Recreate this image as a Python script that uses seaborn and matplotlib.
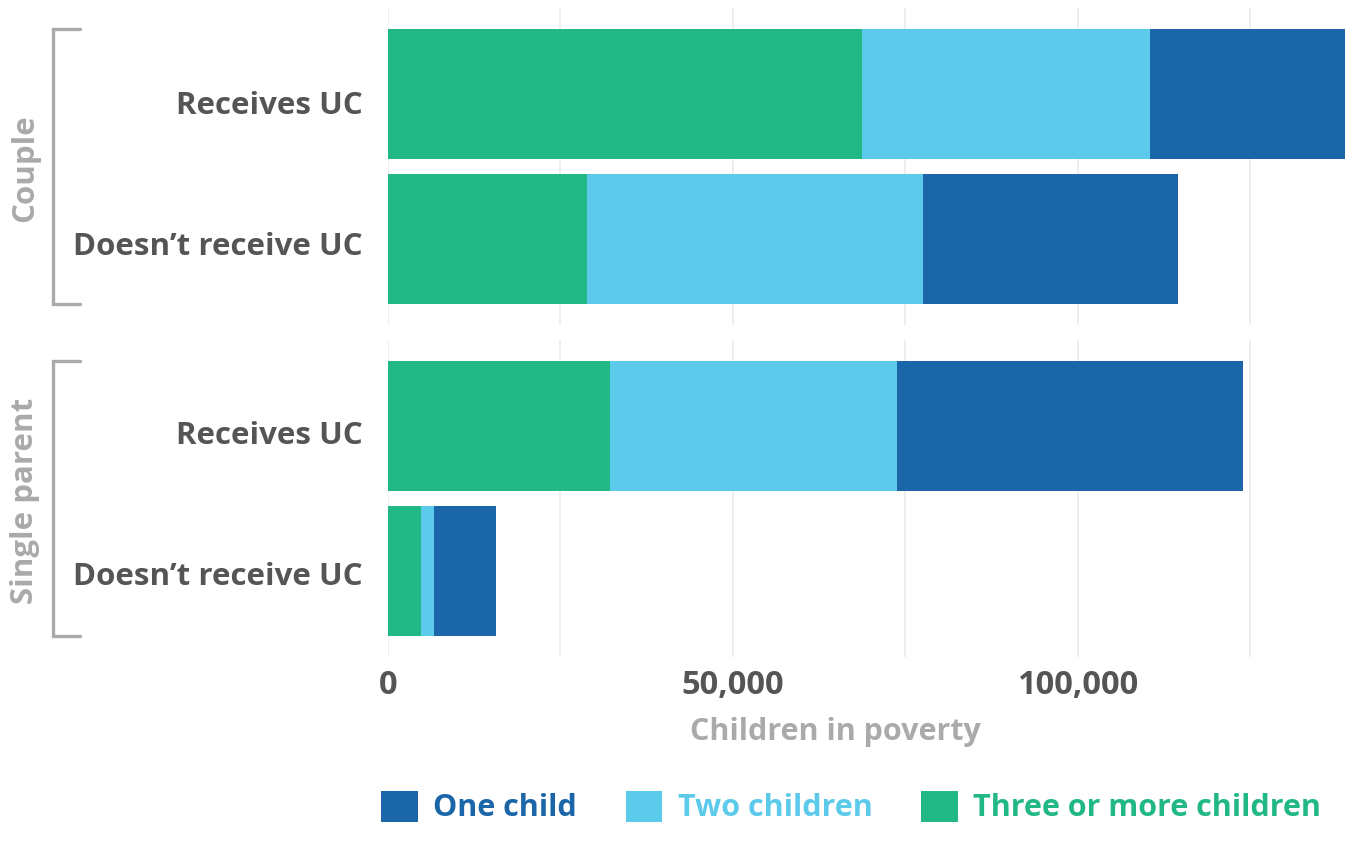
import matplotlib
matplotlib.use("Agg")
import matplotlib.pyplot as plt
import matplotlib.transforms as mtransforms
import seaborn as sns
import pandas as pd
from matplotlib.lines import Line2D
from matplotlib.patches import Patch

# ---- data ----
groups = ["Couple", "Single parent"]
uc_status = ["Receives UC", "Doesn\u2019t receive UC"]
series = ["One child", "Two children", "Three or more children"]
series_colors = ["#1b65a9", "#5ccbeb", "#21b886"]

couple_one = [28300, 37000]
couple_two = [41700, 48700]
couple_three = [68700, 28800]
single_one = [50100, 9000]
single_two = [41600, 1900]
single_three = [32200, 4800]

xticks = [0, 25000, 50000, 75000, 100000, 125000]
xtick_labels = ["0", "", "50,000", "", "100,000", ""]

sns.set_theme(style="white")
plt.rcParams["font.family"] = ["Open Sans", "DejaVu Sans"]

W, H = 1351, 844
fig = plt.figure(figsize=(W / 100, H / 100), dpi=100)

def fx(px):
    return px / W

def fy(py):
    return 1 - py / H

ax_left, ax_right = 388, 1345
panels = [(8, 325), (340, 657)]
label_shift_px = [(9, 4), (7, 2)]
data_sets = [
    (couple_one, couple_two, couple_three),
    (single_one, single_two, single_three),
]
xmax = max(a + b + c for d in data_sets for a, b, c in zip(*d))

axes = []
for (top, bot), (one, two, three), grp, shifts in zip(panels, data_sets, groups, label_shift_px):
    ax = fig.add_axes([fx(ax_left), fy(bot), fx(ax_right - ax_left), (bot - top) / H])
    df = pd.DataFrame({"status": uc_status, "one": one, "two": two, "three": three})
    df["c3"] = df["three"]
    df["c2"] = df["three"] + df["two"]
    df["c1"] = df["three"] + df["two"] + df["one"]
    for col, color in zip(["c1", "c2", "c3"], series_colors):
        sns.barplot(data=df, x=col, y="status", order=uc_status, color=color,
                    width=0.9, orient="h", ax=ax, saturation=1, edgecolor="none",
                    linewidth=0)
    ax.set_xlim(0, xmax)
    ax.set_ylim(1.593, -0.593)
    ax.set_xticks(xticks)
    ax.grid(axis="x", color="#ebebeb", linewidth=1.2)
    ax.grid(axis="y", visible=False)
    ax.set_axisbelow(True)
    for s in ax.spines.values():
        s.set_visible(False)
    ax.set_xlabel("")
    ax.set_ylabel("")
    ax.tick_params(axis="both", length=0)
    ax.tick_params(axis="y", pad=18)
    for lab, sh in zip(ax.get_yticklabels(), shifts):
        lab.set_fontsize(22.5)
        lab.set_fontweight("bold")
        lab.set_color("#555555")
        lab.set_transform(lab.get_transform() +
                          mtransforms.ScaledTranslation(0, -sh / 100, fig.dpi_scale_trans))
    axes.append(ax)

axes[0].set_xticklabels([""] * len(xticks))
axes[1].set_xticklabels(xtick_labels, fontsize=23.5, fontweight="bold", color="#555555")
axes[1].tick_params(axis="x", pad=9)

# facet labels and brackets
bracket_color = "#aaaaaa"
for grp, (y0, y1) in zip(groups, [(29, 304), (361, 636)]):
    fig.add_artist(Line2D([fx(80), fx(53), fx(53), fx(80)],
                          [fy(y0), fy(y0), fy(y1), fy(y1)],
                          color=bracket_color, linewidth=2.4,
                          solid_joinstyle="miter", transform=fig.transFigure))
    fig.text(fx(25), fy((y0 + y1) / 2 + 2), grp, rotation=90, ha="center", va="center",
             fontsize=22.5, fontweight="bold", color=bracket_color)

fig.text(fx(835), fy(732), "Children in poverty", ha="center", va="center",
         fontsize=22, fontweight="bold", color="#aaaaaa")

handles = [Patch(facecolor=c, edgecolor="none") for c in series_colors]
leg = fig.legend(handles, series, loc="center", bbox_to_anchor=(fx(851), fy(807)),
                 ncol=3, frameon=False, handlelength=1.2,
                 handleheight=1.2, handletextpad=0.5, columnspacing=1.6,
                 prop={"weight": "bold", "size": 22})
for t, c in zip(leg.get_texts(), series_colors):
    t.set_color(c)

fig.savefig("out.png", dpi=100)
